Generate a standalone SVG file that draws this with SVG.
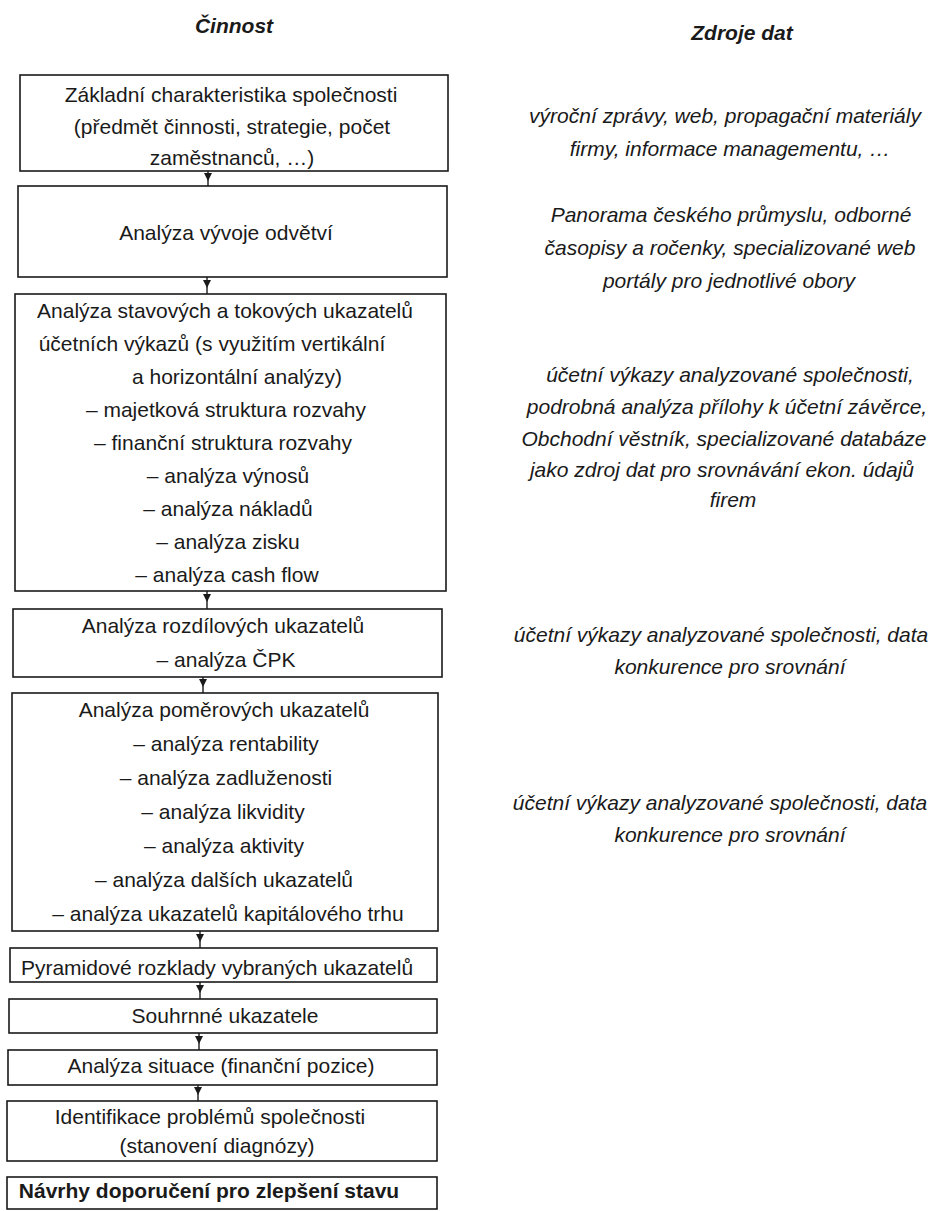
<svg xmlns="http://www.w3.org/2000/svg" width="941" height="1211" viewBox="0 0 941 1211">
<style>
.box{fill:#fff;stroke:#1a1a1a;stroke-width:1.6}
.t{font-family:"Liberation Sans",Arial,Helvetica,sans-serif;font-size:21px;fill:#1a1a1a;text-anchor:middle}
.src{font-style:italic}
.hdr{font-weight:bold;font-style:italic}
.b{font-weight:bold}
.conn{fill:none;stroke:#1a1a1a;stroke-width:1.4;marker-mid:url(#ah)}
</style>
<defs>
<marker id="ah" viewBox="0 0 10 10" refX="10" refY="5" markerUnits="userSpaceOnUse" markerWidth="8" markerHeight="8" orient="auto">
<path d="M0,0 L10,5 L0,10 z" fill="#1a1a1a"/>
</marker>
</defs>
<rect width="941" height="1211" fill="#fff"/>

<g id="headers">
<text class="t hdr" x="234" y="33">Činnost</text>
<text class="t hdr" x="742" y="40">Zdroje dat</text>
</g>

<g id="connectors">
<path class="conn" d="M208,171 L208,181 L208,186"/>
<path class="conn" d="M207,277 L207,288 L207,294"/>
<path class="conn" d="M207,591 L207,602 L207,609"/>
<path class="conn" d="M203,677 L203,687 L203,693"/>
<path class="conn" d="M200,931 L200,942 L200,948"/>
<path class="conn" d="M200,982 L200,993 L200,999"/>
<path class="conn" d="M199,1033 L199,1044 L199,1050"/>
<path class="conn" d="M198,1085 L198,1095 L198,1101"/>
</g>

<g id="n1">
<rect class="box" x="20" y="75" width="428" height="96"/>
<text class="t" x="231" y="102">Základní charakteristika společnosti</text>
<text class="t" x="232" y="134">(předmět činnosti, strategie, počet</text>
<text class="t" x="232" y="165">zaměstnanců, …)</text>
</g>

<g id="n2">
<rect class="box" x="18" y="186" width="429" height="91"/>
<text class="t" x="226" y="240">Analýza vývoje odvětví</text>
</g>

<g id="n3">
<rect class="box" x="15" y="294" width="431" height="297"/>
<text class="t" x="225" y="318">Analýza stavových a tokových ukazatelů</text>
<text class="t" x="212" y="351">účetních výkazů (s využitím vertikální</text>
<text class="t" x="237" y="384">a horizontální analýzy)</text>
<text class="t" x="226" y="417">– majetková struktura rozvahy</text>
<text class="t" x="223" y="450">– finanční struktura rozvahy</text>
<text class="t" x="228" y="483">– analýza výnosů</text>
<text class="t" x="228" y="516">– analýza nákladů</text>
<text class="t" x="228" y="549">– analýza zisku</text>
<text class="t" x="227" y="582">– analýza cash flow</text>
</g>

<g id="n4">
<rect class="box" x="13" y="609" width="429" height="68"/>
<text class="t" x="223" y="633">Analýza rozdílových ukazatelů</text>
<text class="t" x="226" y="667">– analýza ČPK</text>
</g>

<g id="n5">
<rect class="box" x="12" y="693" width="426" height="238"/>
<text class="t" x="224" y="717">Analýza poměrových ukazatelů</text>
<text class="t" x="226" y="751">– analýza rentability</text>
<text class="t" x="226" y="785">– analýza zadluženosti</text>
<text class="t" x="223" y="819">– analýza likvidity</text>
<text class="t" x="224" y="853">– analýza aktivity</text>
<text class="t" x="224" y="887">– analýza dalších ukazatelů</text>
<text class="t" x="228" y="921">– analýza ukazatelů kapitálového trhu</text>
</g>

<g id="n6">
<rect class="box" x="10" y="948" width="427" height="34"/>
<text class="t" x="217" y="975">Pyramidové rozklady vybraných ukazatelů</text>
</g>

<g id="n7">
<rect class="box" x="9" y="999" width="428" height="34"/>
<text class="t" x="225" y="1023">Souhrnné ukazatele</text>
</g>

<g id="n8">
<rect class="box" x="8" y="1050" width="429" height="35"/>
<text class="t" x="221" y="1073">Analýza situace (finanční pozice)</text>
</g>

<g id="n9">
<rect class="box" x="7" y="1101" width="430" height="60"/>
<text class="t" x="210" y="1124">Identifikace problémů společnosti</text>
<text class="t" x="217" y="1153">(stanovení diagnózy)</text>
</g>

<g id="n10">
<rect class="box" x="7" y="1177" width="430" height="32"/>
<text class="t b" x="209" y="1198">Návrhy doporučení pro zlepšení stavu</text>
</g>

<g id="s1">
<text class="t src" x="725" y="123">výroční zprávy, web, propagační materiály</text>
<text class="t src" x="730" y="156">firmy, informace managementu, …</text>
</g>

<g id="s2">
<text class="t src" x="731" y="222">Panorama českého průmyslu, odborné</text>
<text class="t src" x="730" y="255">časopisy a ročenky, specializované web</text>
<text class="t src" x="729" y="288">portály pro jednotlivé obory</text>
</g>

<g id="s3">
<text class="t src" x="730" y="382">účetní výkazy analyzované společnosti,</text>
<text class="t src" x="727" y="414">podrobná analýza přílohy k účetní závěrce,</text>
<text class="t src" x="724" y="446">Obchodní věstník, specializované databáze</text>
<text class="t src" x="722" y="477">jako zdroj dat pro srovnávání ekon. údajů</text>
<text class="t src" x="733" y="507">firem</text>
</g>

<g id="s4">
<text class="t src" x="721" y="642">účetní výkazy analyzované společnosti, data</text>
<text class="t src" x="730" y="674">konkurence pro srovnání</text>
</g>

<g id="s5">
<text class="t src" x="720" y="810">účetní výkazy analyzované společnosti, data</text>
<text class="t src" x="730" y="842">konkurence pro srovnání</text>
</g>
</svg>
